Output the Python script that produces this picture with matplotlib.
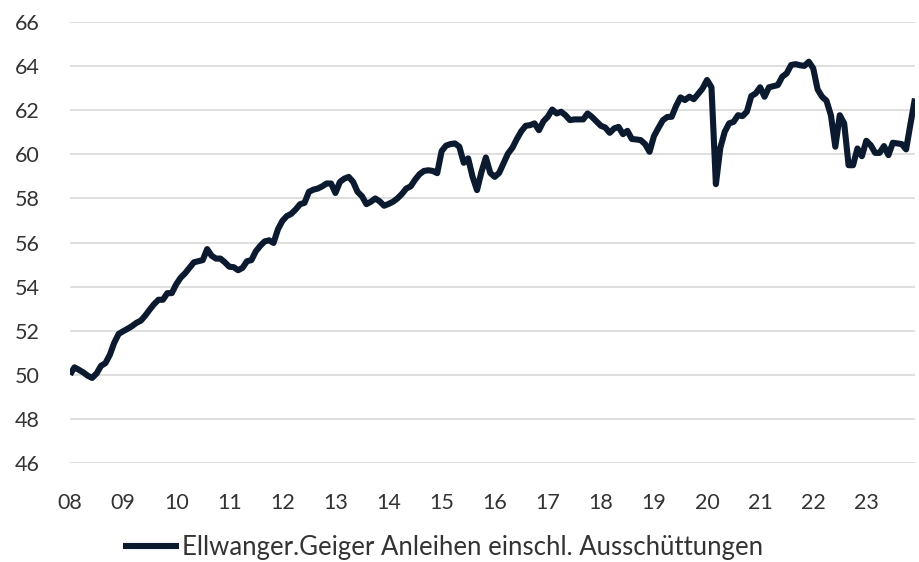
import numpy as np
import matplotlib
matplotlib.use("Agg")
import matplotlib.pyplot as plt

# monthly values, Jan 2008 .. Dec 2023
values = [
    50.00, 50.33, 50.22, 50.10, 49.95, 49.85, 50.05, 50.40, 50.52, 50.90, 51.45, 51.85,  # 2008
    51.97, 52.08, 52.20, 52.35, 52.45, 52.68, 52.95, 53.20, 53.40, 53.40, 53.70, 53.70,  # 2009
    54.10, 54.40, 54.60, 54.85, 55.10, 55.15, 55.20, 55.70, 55.40, 55.27, 55.27, 55.10,  # 2010
    54.90, 54.88, 54.74, 54.85, 55.15, 55.20, 55.60, 55.85, 56.05, 56.10, 55.98, 56.60,  # 2011
    56.98, 57.20, 57.30, 57.50, 57.74, 57.80, 58.30, 58.40, 58.45, 58.55, 58.68, 58.68,  # 2012
    58.25, 58.75, 58.90, 58.98, 58.75, 58.30, 58.10, 57.74, 57.85, 58.00, 57.87, 57.67,  # 2013
    57.75, 57.85, 58.00, 58.20, 58.45, 58.55, 58.85, 59.10, 59.25, 59.28, 59.25, 59.15,  # 2014
    60.15, 60.40, 60.47, 60.50, 60.35, 59.62, 59.82, 58.98, 58.38, 59.20, 59.86, 59.16,  # 2015
    58.98, 59.16, 59.60, 60.04, 60.30, 60.70, 61.05, 61.30, 61.33, 61.41, 61.10, 61.50,  # 2016
    61.71, 62.04, 61.86, 61.94, 61.78, 61.56, 61.59, 61.59, 61.59, 61.86, 61.70, 61.50,  # 2017
    61.30, 61.22, 60.98, 61.18, 61.25, 60.92, 61.07, 60.70, 60.68, 60.65, 60.47, 60.12,  # 2018
    60.83, 61.20, 61.55, 61.70, 61.71, 62.20, 62.59, 62.47, 62.62, 62.51, 62.75, 63.00,  # 2019
    63.38, 63.05, 58.65, 60.30, 61.03, 61.41, 61.48, 61.78, 61.74, 61.94, 62.65, 62.77,  # 2020
    63.05, 62.62, 63.05, 63.10, 63.15, 63.53, 63.68, 64.06, 64.10, 64.05, 64.02, 64.21,  # 2021
    63.91, 62.95, 62.62, 62.44, 61.78, 60.35, 61.78, 61.41, 59.51, 59.51, 60.27, 59.92,  # 2022
    60.62, 60.42, 60.07, 60.07, 60.38, 59.97, 60.53, 60.50, 60.47, 60.23, 61.40, 62.54,  # 2023
]
year_labels = ["08", "09", "10", "11", "12", "13", "14", "15",
               "16", "17", "18", "19", "20", "21", "22", "23"]
series_name = "Ellwanger.Geiger Anleihen einschl. Ausschüttungen"

plt.rcParams["font.family"] = ["Lato", "DejaVu Sans"]
text_color = "#333333"

fig = plt.figure(figsize=(9.19, 5.62), dpi=100)
ax = fig.add_axes([0.0762, 0.1767, 0.9194, 0.7836])

months = np.arange(len(values))
ax.plot(months, values, color="#0b1a2e", linewidth=4.4,
        solid_joinstyle="round", solid_capstyle="butt", label=series_name, zorder=3)

ax.set_xlim(0, len(values) - 1)
ax.set_ylim(46, 66)
ax.set_yticks(np.arange(46, 67, 2))
ax.set_xticks(np.arange(0, len(values), 12))
ax.set_xticklabels(year_labels)

ax.grid(axis="y", color="#d9d9d9", linewidth=1.2)
ax.set_axisbelow(True)
for s in ax.spines.values():
    s.set_visible(False)
ax.tick_params(axis="both", length=0, labelsize=15.5, colors=text_color)
ax.tick_params(axis="y", pad=22)
ax.tick_params(axis="x", pad=22)

fig.legend(loc="center", bbox_to_anchor=(0.482, 0.026), frameon=False,
           fontsize=18.5, handlelength=2.2, handletextpad=0.1,
           labelcolor=text_color)

fig.savefig("out.png", dpi=100)
